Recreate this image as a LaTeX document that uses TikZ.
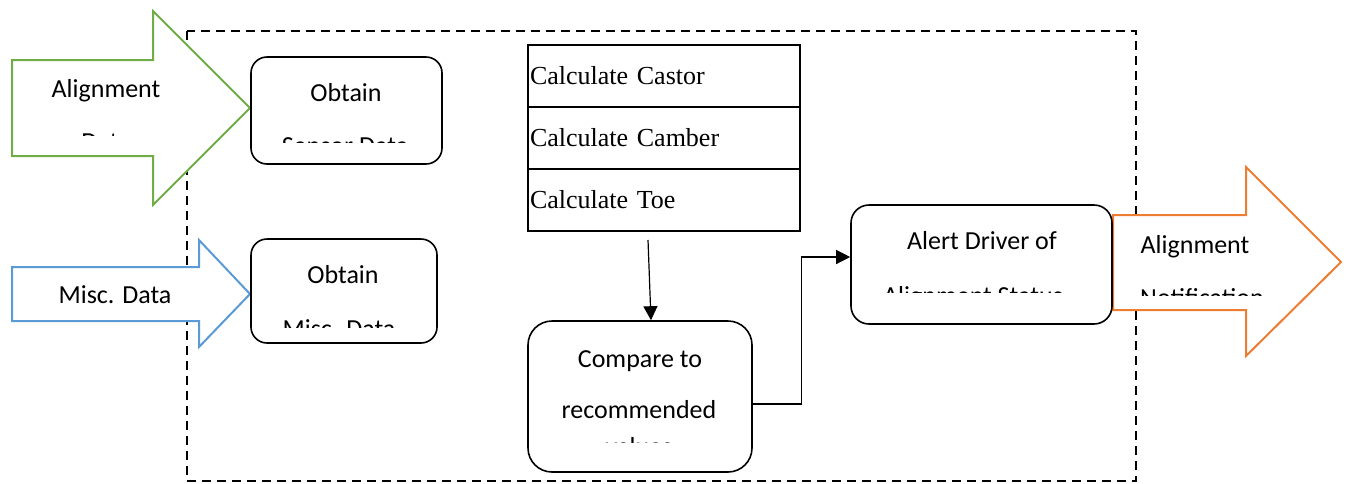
\documentclass[tikz,border=0pt]{standalone}
\usepackage{fontspec}
\setmainfont{Carlito}
\newfontfamily\calcfont{Liberation Serif}
\usetikzlibrary{arrows.meta}
\definecolor{arrowgreen}{HTML}{70AD47}
\definecolor{arrowblue}{HTML}{5B9BD5}
\definecolor{arroworange}{HTML}{ED7D31}

\begin{document}
\begin{tikzpicture}[x=0.5pt,y=-0.5pt,
            font=\fontsize{13}{15}\selectfont,
            block/.style = {draw, fill=white, line width=0.8pt,
                        rounded corners=8pt, inner sep=0pt},
            calc/.style = {draw, line width=1pt, minimum height=31pt,
                        text width=134pt, inner xsep=1pt, inner ysep=0pt,
                        align=left, font=\calcfont\fontsize{13}{15}\selectfont},
            txt/.style = {inner sep=0pt, anchor=base},
            bigarrow/.style = {line width=1pt, fill=white, line join=miter},
            flow/.style = {line width=0.6pt, -{Triangle[length=7pt,width=7pt]}}]
            \useasboundingbox (0,0) rectangle (1348,483);
            % System border
            \draw[line width=1.2pt, dash pattern=on 4.5pt off 3pt] (187,31) rectangle (1136,481);
            % Input arrows
            \draw[bigarrow, draw=arrowgreen] (12,60) -- (153,60) -- (153,11) -- (250,108)
                -- (153,205) -- (153,156) -- (12,156) -- cycle;
            \draw[bigarrow, draw=arrowblue] (12,267) -- (199,267) -- (199,240) -- (250,294)
                -- (199,347) -- (199,321) -- (12,321) -- cycle;
            % Output arrow
            \draw[bigarrow, draw=arroworange] (1113,215) -- (1246,215) -- (1246,167) -- (1341,262)
                -- (1246,356) -- (1246,310) -- (1113,310) -- cycle;
            \node[txt] (aligndata) at (106,97) {Alignment};
            \begin{scope}
                \clip (20,100) rectangle (200,135);
                \node[txt] (aligndata2) at (106,150) {Data};
            \end{scope}
            \node[txt] (miscdata) at (115,303) {Misc. Data};
            \node[txt] (notify) at (1195,253) {Alignment};
            \begin{scope}
                \clip (1120,260) rectangle (1300,295);
                \node[txt] (notify2) at (1202,306) {Notification};
            \end{scope}
            % Obtain boxes
            \node[block, minimum width=95.5pt, minimum height=53.5pt] (sensor) at (346.5,110.5) {};
            \node[txt] (sensor1) at (346,101) {Obtain};
            \begin{scope}
                \clip (260,110) rectangle (435,142);
                \node[txt] (sensor2) at (345,154) {Sensor Data};
            \end{scope}
            \node[block, minimum width=93pt, minimum height=52pt] (misc) at (344,291) {};
            \node[txt] (misc1) at (343,283) {Obtain};
            \begin{scope}
                \clip (260,290) rectangle (430,327);
                \node[txt] (misc2) at (339,337) {Misc. Data};
            \end{scope}
            % Calculations
            \node[calc] (castor) at (664,76) {Calculate Castor};
            \node[calc] (camber) at (664,138) {Calculate Camber};
            \node[calc] (toe) at (664,200) {Calculate Toe};
            % Comparison
            \node[block, rounded corners=12pt, minimum width=112pt, minimum height=75.5pt] (compare) at (640,396.5) {};
            \node[txt] (compare1) at (640,367) {Compare to};
            \node[txt] (compare2) at (639,418) {recommended};
            \begin{scope}
                \clip (540,425) rectangle (740,442);
                \node[txt] (compare3) at (639,455) {values};
            \end{scope}
            % Alert
            \node[block, rounded corners=9pt, minimum width=130.5pt, minimum height=59.5pt] (alert) at (981.5,264.5) {};
            \node[txt] (alert1) at (982,249) {Alert Driver of};
            \begin{scope}
                \clip (860,260) rectangle (1105,292);
                \node[txt] (alert2) at (973,304) {Alignment Status};
            \end{scope}
            % Connectors
            \coordinate (calcfoot) at (648,240);
            \draw[flow] (calcfoot) -- ([xshift=5.5pt]compare.north);
            \draw[flow] ([yshift=-3.75pt]compare.east) -- ++(49,0) |- ([yshift=3.75pt]alert.west);
        \end{tikzpicture}
\end{document}
